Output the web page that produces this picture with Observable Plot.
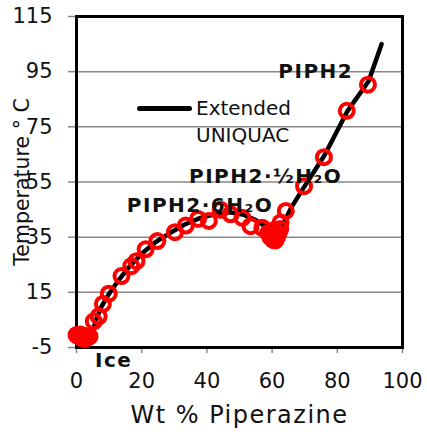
<!DOCTYPE html>
<html><head><meta charset="utf-8">
<script src="https://cdn.jsdelivr.net/npm/d3@7"></script>
<script src="https://cdn.jsdelivr.net/npm/@observablehq/plot@0.6"></script>
<style>
body{margin:0;background:#fff;}
#wrap{position:relative;width:427px;height:439px;font-family:"DejaVu Sans",sans-serif;color:#111;}
#swatch{position:absolute;left:137px;top:105.5px;width:55px;height:5px;background:#000;border-radius:3px;}
#legtext{position:absolute;left:196px;top:95px;font-size:20px;line-height:27px;}
</style></head><body><div id="wrap"><div id="chart"></div><div id="swatch"></div><div id="legtext">Extended<br>UNIQUAC</div></div>
<script>
// Experimental points (wt % piperazine, temperature °C)
const expWt = [0,0.8,1.5,2.5,3.2,4,1.2,2.8,
  5.3,6.8,8.1,9.9,13.8,16.8,18.4,21.2,24.8,30.2,33.5,37.3,40.6,44.2,47.3,50.9,53.4,57,59.6,
  58.8,59.5,60.3,61,61.5,62,60.5,62.5,
  62.6,64.2,69.8,75.9,82.9,89.4];
const expT = [-0.5,-1,-1.5,-2,-1.5,-1,-0.3,-0.8,
  4.5,6.3,10.8,14.5,20.9,24.5,26.3,30.6,33.6,36.8,39.2,41.6,40.9,44.9,43.3,42,39,38.4,36,
  36.5,35,34,33.8,35,36.5,37.5,38,
  40.3,44.5,53.5,64,80.8,90.3];
// Extended UNIQUAC model curve
const modelWt = [0,2,4.3,5,6,7.5,10,13,16,20,24,28,33,38,43,47,51,55,58,60.5,61.5,63.5,66,70,76,83,89.6,93.6];
const modelT = [0,-0.8,-1.8,1,5,9.5,14.5,19.5,24,29,33,36,39.5,42,43.5,44,43.2,41.2,38.8,36.3,35,40,46,53.5,64.5,80.5,91.5,105];
const xTicks = [0,20,40,60,80,100];
const yTicks = [-5,15,35,55,75,95,115];
const phaseLabels = ["Ice","PIPH2·6H₂O","PIPH2·½H₂O","PIPH2"];
const phaseWt = [11.4,37.9,58,73.4];
const phaseT = [-9.6,46.3,56.9,95];

const exp = expWt.map((w,i)=>({w, t:expT[i]}));
const model = modelWt.map((w,i)=>({w, t:modelT[i]}));
const phases = phaseLabels.map((s,i)=>({s, w:phaseWt[i], t:phaseT[i]}));

const chart = Plot.plot({
  width:427, height:439,
  marginLeft:76, marginRight:25, marginTop:16, marginBottom:92,
  x:{domain:[0,100]},
  y:{domain:[-5,115]},
  style:{fontFamily:"DejaVu Sans", fontSize:"21px", color:"#111", background:"white", overflow:"visible"},
  marks:[
    Plot.gridY(yTicks.slice(1,-1), {stroke:"#888", strokeOpacity:1, strokeWidth:1.5}),
    Plot.axisX(xTicks, {tickSize:6, tickPadding:20, stroke:"#888", strokeWidth:1.5, label:null, fontSize:21, tickFormat:d=>String(d)}),
    Plot.axisY(yTicks, {tickSize:8, tickPadding:16, stroke:"#888", strokeWidth:1.5, label:null, fontSize:21, tickFormat:d=>String(d)}),
    Plot.frame({stroke:"#000", strokeWidth:3}),
    Plot.line(model, {x:"w", y:"t", stroke:"#000", strokeWidth:4.5}),
    Plot.dot(exp, {x:"w", y:"t", r:7, stroke:"#ff0000", strokeWidth:4}),
    Plot.text(phases, {x:"w", y:"t", text:"s", fontWeight:"bold", fontSize:20}),
    Plot.text(["Wt % Piperazine"], {frameAnchor:"bottom", dy:75, fontSize:24}),
    Plot.text(["Temperature ° C"], {frameAnchor:"left", textAnchor:"middle", dx:-54, rotate:-90, fontSize:20.5})
  ]
});
const svg = d3.select(chart);
svg.selectAll("text").filter(function(){ return phaseLabels.includes(this.textContent); })
  .style("letter-spacing","1.5px");
svg.selectAll("text").filter(function(){ return this.textContent === "Wt % Piperazine"; })
  .style("letter-spacing","1.5px");
document.getElementById("chart").appendChild(chart);
</script>
</body></html>
